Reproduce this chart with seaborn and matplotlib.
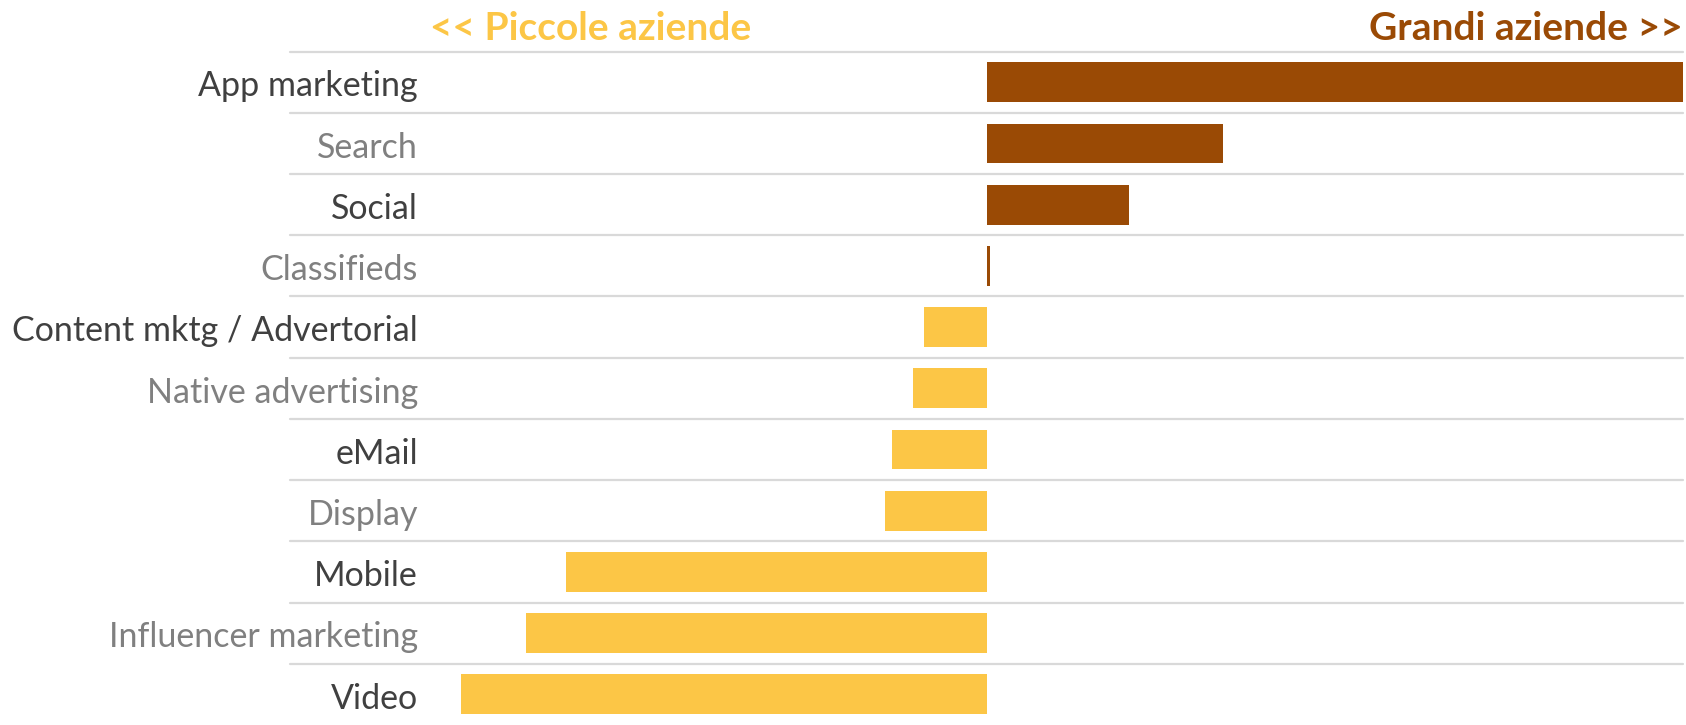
import matplotlib
matplotlib.use("Agg")
import matplotlib.pyplot as plt
import matplotlib.transforms as mtransforms
import seaborn as sns
import pandas as pd

categories = [
    "App marketing", "Search", "Social", "Classifieds",
    "Content mktg / Advertorial", "Native advertising", "eMail",
    "Display", "Mobile", "Influencer marketing", "Video",
]
# positive = skewed toward large companies, negative = toward small companies
values = [100.0, 34.0, 20.4, 0.5, -9.0, -10.6, -13.6, -14.6, -60.4, -66.1, -75.5]

header_left = "<< Piccole aziende"
header_right = "Grandi aziende >>"

color_small = "#FCC646"
color_large = "#9A4A05"
label_dark = "#404040"
label_gray = "#808080"

df = pd.DataFrame({"categoria": categories, "valore": values})
df["lato"] = ["Grandi" if v >= 0 else "Piccole" for v in values]

sns.set_theme(style="white")
plt.rcParams["font.family"] = ["Lato", "DejaVu Sans"]

fig = plt.figure(figsize=(16.86, 7.25), dpi=100)
ax = fig.add_axes([290 / 1686, 0.0, (1683 - 290) / 1686, 1 - 51.6 / 725])

sns.barplot(
    data=df, x="valore", y="categoria", hue="lato",
    palette={"Grandi": color_large, "Piccole": color_small},
    dodge=False, width=0.65, legend=False, orient="h",
    saturation=1, linewidth=0, ax=ax, zorder=2,
)

ax.set_xlim(-100, 100)
ax.set_ylim(len(categories) - 0.5, -0.5)

# separators between rows
for i in range(len(categories)):
    ax.axhline(i - 0.5, color="#d9d9d9", lw=1.6, zorder=0, clip_on=False)

ax.set_xlabel("")
ax.set_ylabel("")
ax.set_xticks([])
ax.set_yticks([])
for s in ax.spines.values():
    s.set_visible(False)

# category names sit over the left end of the row separators
trans = mtransforms.blended_transform_factory(ax.transAxes, ax.transData)
label_x = (418 - 290) / (1683 - 290)
for i, name in enumerate(categories):
    ax.text(label_x, i + 0.07, name, transform=trans, ha="right", va="center",
            fontsize=24.5, color=label_dark if i % 2 == 0 else label_gray)

fig.text(430 / 1686, 1 - 28 / 725, header_left, color=color_small,
         fontsize=28, fontweight="bold", ha="left", va="center")
fig.text(1683 / 1686, 1 - 28 / 725, header_right, color=color_large,
         fontsize=28, fontweight="bold", ha="right", va="center")

fig.savefig("out.png", dpi=100, facecolor="white")
